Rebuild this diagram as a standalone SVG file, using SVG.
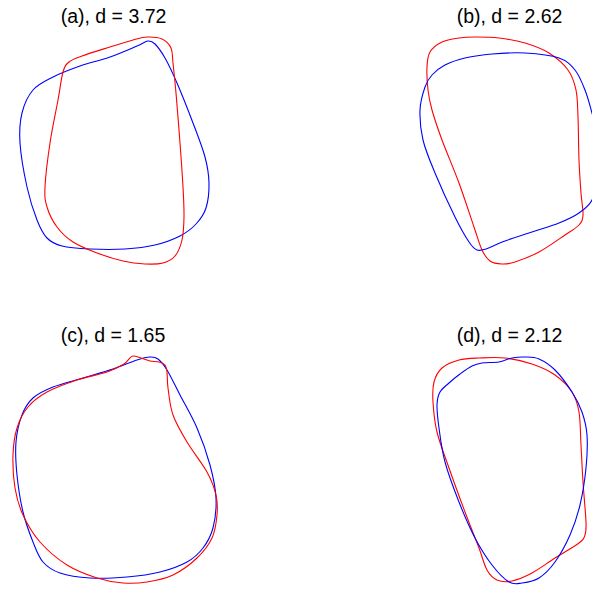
<svg xmlns="http://www.w3.org/2000/svg" width="592" height="589" viewBox="0 0 592 589">
<style>
.t{font-family:"Liberation Sans",Arial,sans-serif;font-size:19.5px;fill:#000;text-anchor:middle}
.r{fill:none;stroke:#ff0000;stroke-width:1.1}
.b{fill:none;stroke:#0000ff;stroke-width:1.1}
</style>
<rect width="592" height="589" fill="#fff"/>
<g id="panel-a">
<text class="t" x="113.5" y="22.5">(a), d = 3.72</text>
<path class="b" d="M148,41 C151,40.67 152.17,41.17 155,44 S161.33,51.5 165,58 S172.33,72.17 177,83 S188.33,110.67 193,123 S202.33,147 205,157 S208.83,174.5 209,183 S208.170,201.17 206,208 S200.33,219.33 196,224 S186.83,232.5 180,236 S164.17,242.83 155,245 S135.83,248.33 125,249 S100.5,249.5 90,249 S69.17,247.83 62,246 S51.17,242.33 47,238 S40.33,228.5 37,220 S29.83,199.83 27,187 S20.83,155.33 20,143 S19.83,121.83 22,113 S27.83,96 33,90 S45.17,81 53,77 S70.5,69.33 80,66 S100.5,60.33 110,57 S130.67,48.67 137,46 S145,41.33 148,41 Z"/>
<path class="r" d="M147,37 C151.83,36.83 158,37.17 162,39 S169.17,44 171,48 S172.17,55.5 173,63 S174.83,79.67 176,93 S178.83,127.33 180,143 S182.33,174.67 183,187 S184.17,208.17 184,217 S183.5,233.5 182,240 S178.17,252.17 175,256 S168,261.67 163,263 S151.67,264.33 145,264 S131,262.83 123,261 S105.33,256.17 97,253 S79.67,246.33 73,242 S61.33,232.83 57,227 S49,213.67 47,207 S44.5,197.67 45,187 S47.83,157.5 50,143 S55.83,111.83 58,100 S61.17,78.33 63,72 S65.83,64.67 69,62 S75.17,58.5 82,56 S101.5,49.67 110,47 S126.83,41.67 133,40 S142.17,37.17 147,37 Z"/>
</g>
<g id="panel-b">
<text class="t" x="509.5" y="22.5">(b), d = 2.62</text>
<path class="r" d="M475,37 C481.67,37 490.67,37 499,38 S516.67,40.5 525,43 S541.83,48.5 549,53 S563.5,63.83 568,70 S574.33,82.17 576,90 S577.5,105.33 578,117 S578.5,147.33 579,160 S580.33,183.83 581,193 S583.33,209.67 583,215 S582,221.67 579,225 S571.67,230.5 565,235 S547.33,247.5 539,252 S521.17,260 515,262 S506.17,264.17 502,264 S493.33,263.33 490,261 S484.67,255.67 482,250 S477.83,238.17 474,227 S464.33,197.5 459,183 S446.5,152.17 442,140 S434.33,118.33 432,110 S428.83,97.17 428,90 S426.67,73.33 427,67 S427.5,56.17 430,52 S437.17,44.33 442,42 S453.5,38.83 459,38 S468.33,37 475,37 Z"/>
<path class="b" d="M425,87 C423,92.83 420.33,101.17 420,110 S420.5,129.5 423,140 S429.67,160.17 435,173 S449.33,205.5 455,217 S465.33,236.5 469,242 S474.17,248.83 477,250 S481.33,250.5 486,249 S497.33,243.83 505,241 S523,235 532,232 S551.17,226.17 559,223 S573.5,216.83 579,213 S588.67,206.33 592,200 S597.67,184.17 599,175 S601.17,155.33 600,145 S594.5,122.17 592,113 S587.83,97.17 585,90 S579.33,75.33 575,70 S567.33,60.83 559,58 S536.17,53.67 525,53 S502,53.17 492,54 S472.83,56.17 465,58 S450.5,62.17 445,65 S435.33,71.33 432,75 S427,81.17 425,87 Z"/>
</g>
<g id="panel-c">
<text class="t" x="113" y="342.3">(c), d = 1.65</text>
<path class="b" d="M150,357 C153.5,356.83 155.17,356.83 158,359 S163.33,364 167,370 S175,385.33 180,395 S192,416.33 197,428 S206.83,453.33 210,465 S215.5,487.5 216,498 S215.17,519.67 213,528 S207.33,542.33 203,548 S194.17,558 187,562 S170,569.5 160,572 S138.67,576 127,577 S101.17,578.67 90,578 S67.83,575.67 60,573 S47.5,567.17 43,562 S36.33,550.33 33,542 S25.67,523.17 23,512 S18.17,486.67 17,475 S15.17,452 16,442 S19.17,422.33 22,415 S27.83,402.67 33,398 S44.67,390.33 53,387 S73,381 83,378 S104,372 113,369 S130.83,362 137,360 S146.5,357.17 150,357 Z"/>
<path class="r" d="M133,356 C136,356 138.17,357.17 141,358 S147,360.33 150,361 S156.5,361.33 159,362 S163.67,363.33 165,365 S166.5,368.17 167,372 S167,380.83 168,388 S169.83,406 173,415 S181.33,432.5 187,442 S202.17,463.17 207,472 S214.33,487.830 216,495 S217.67,507.83 217,515 S215.33,530.83 212,538 S203.5,551.83 197,558 S181.33,571 173,575 S155.33,580.67 147,582 S131.33,583.67 123,583 S106.33,581 97,578 S76.5,571 67,565 S47.33,550.33 40,542 S27.17,524 23,515 S16.67,498 15,488 S12.67,465 13,455 S14.5,436 17,428 S23,413 28,407 S38.83,396.5 47,392 S67,383.33 77,380 S99.17,374.67 107,372 S119.67,366.67 124,364 S130,356 133,356 Z"/>
</g>
<g id="panel-d">
<text class="t" x="509.5" y="342.3">(d), d = 2.12</text>
<path class="r" d="M479,358 C486.67,357.67 496.17,357 505,358 S523.67,361.17 532,364 S548.33,370.33 555,375 S568,385.83 572,392 S577.5,403.17 579,412 S580.33,433.33 581,445 S582.17,469.17 583,482 S585.67,513.17 586,522 S586.17,531.5 585,535 S584,539.17 579,543 S562.83,553 555,558 S539.17,569.17 532,573 S517.83,579.83 512,581 S501.17,581.83 497,580 S490,575.33 487,570 S482.67,557.67 479,548 S470,525.33 465,512 S453.67,481.33 449,468 S439.67,443 437,432 S433.5,410.33 433,402 S432.5,387.67 434,382 S437.83,371.67 442,368 S452.83,361.67 459,360 S471.33,358.33 479,358 Z"/>
<path class="b" d="M525,357 C529.5,357.17 534,356.83 539,359 S549.5,364.5 555,370 S567.5,385 572,392 S579.5,404.83 582,412 S586.33,425.67 587,435 S587.17,456.33 586,468 S582.67,493.83 580,505 S574.17,525.5 570,535 S560.17,554.83 555,562 S544.5,574.5 539,578 S527,582.33 522,583 S514,585 509,582 S497.67,572.33 492,565 S480.5,548.5 475,538 S464,514.67 459,502 S448.33,474.33 445,462 S440.33,437.5 439,428 S436.83,411 437,405 S438,395.67 440,392 S445.67,386 449,383 S456.17,376.83 460,374 S468.33,367.83 472,366 S477.5,363.67 482,363 S494,362.83 499,362 S507.67,358.83 512,358 S520.5,356.83 525,357 Z"/>
</g>
</svg>
